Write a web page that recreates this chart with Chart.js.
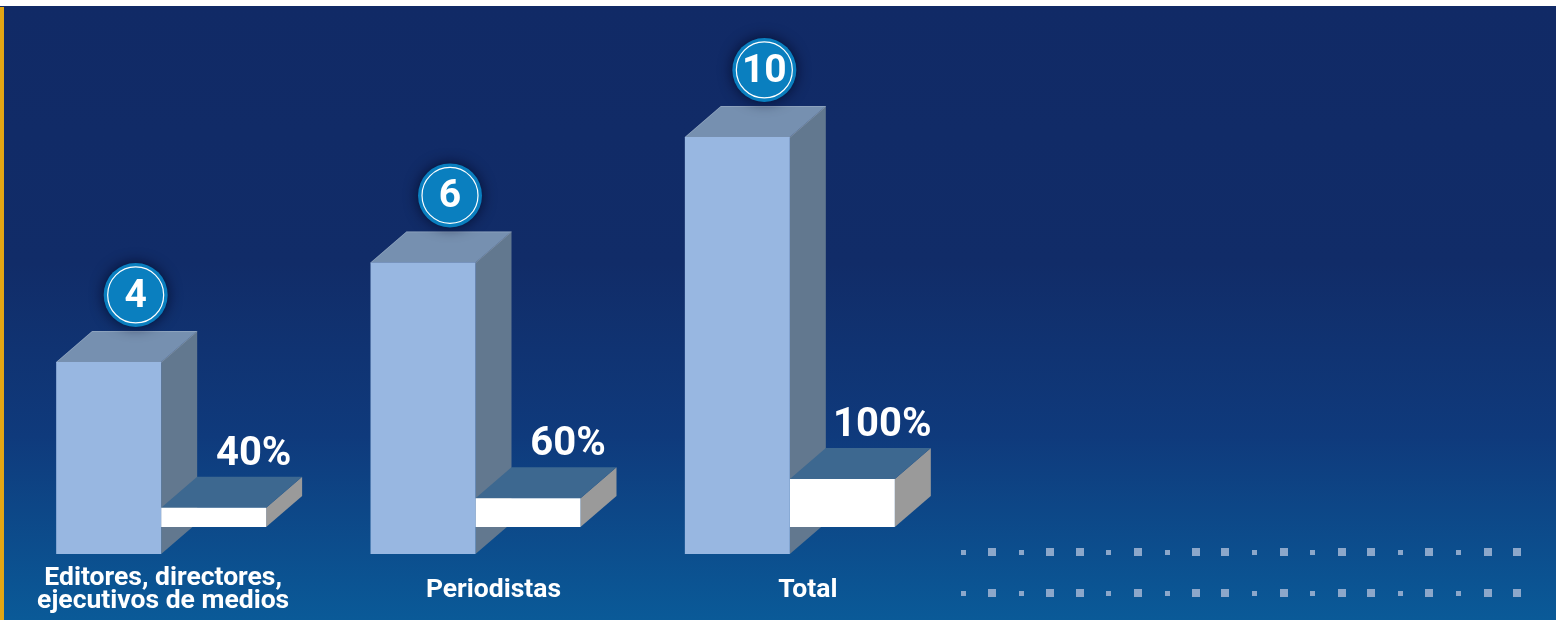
<!DOCTYPE html>
<html lang="es">
  <head>
    <meta charset="UTF-8" />
    <title>Editores, periodistas y total</title>
    <script src="https://cdn.jsdelivr.net/npm/chart.js@4.4.1/dist/chart.umd.min.js"></script>
    <style>
      body {
        margin: 0;
        background: #ffffff;
        font-family: Roboto, Arial, sans-serif;
      }
      .panel {
        position: absolute;
        left: 0;
        top: 6px;
        width: 1556px;
        height: 614px;
        background: linear-gradient(to bottom, #112a66 0%, #112c68 42%, #0f3a7c 70%, #0a5a98 100%);
      }
      .edge {
        position: absolute;
        left: 0;
        top: 7px;
        width: 4px;
        height: 613px;
        background: #e3a614;
      }
      #chart {
        position: absolute;
        left: 0;
        top: 0;
      }
    </style>
  </head>
  <body>
    <div class="panel"></div>
    <div class="edge"></div>
    <canvas id="chart" width="1556" height="620"></canvas>

    <script>
      // Datos
      const categories = [["Editores, directores,", "ejecutivos de medios"], "Periodistas", "Total"];
      const counts = [4, 6, 10];
      const percents = [40, 60, 100];

      // profundidad del efecto 3D
      const DX = 36;
      const DY = 31;

      const faceColors = [
        { front: "#98b7e1", top: "#7690b0", side: "#62788f" },
        { front: "#ffffff", top: "#3d6890", side: "#9a9a9a" },
      ];

      const poly = (ctx, pts, fill) => {
        ctx.beginPath();
        ctx.moveTo(pts[0][0], pts[0][1]);
        for (let i = 1; i < pts.length; i++) ctx.lineTo(pts[i][0], pts[i][1]);
        ctx.closePath();
        ctx.fillStyle = fill;
        ctx.fill();
      };

      // caras superior y lateral de cada barra
      const box3d = {
        id: "box3d",
        beforeDatasetsDraw(chart) {
          const ctx = chart.ctx;
          ctx.save();
          chart.data.datasets.forEach((ds, di) => {
            const c = faceColors[di];
            chart.getDatasetMeta(di).data.forEach((bar) => {
              const { x, y, base, width } = bar.getProps(["x", "y", "base", "width"], true);
              const l = x - width / 2;
              const r = x + width / 2;
              poly(ctx, [[r, y], [r + DX, y - DY], [r + DX, base - DY], [r, base]], c.side);
              poly(ctx, [[l, y], [l + DX, y - DY], [r + DX, y - DY], [r, y]], c.top);
              if (di === 0) {
                ctx.strokeStyle = "rgba(255,255,255,0.18)";
                ctx.lineWidth = 1;
                ctx.beginPath();
                ctx.moveTo(l, y + 0.5);
                ctx.lineTo(l + DX, y - DY + 0.5);
                ctx.lineTo(r + DX, y - DY + 0.5);
                ctx.lineTo(r, y + 0.5);
                ctx.closePath();
                ctx.stroke();
              }
            });
          });
          ctx.restore();
        },
        afterDatasetsDraw(chart) {
          const ctx = chart.ctx;
          ctx.save();
          // círculos con la cantidad
          chart.getDatasetMeta(0).data.forEach((bar, i) => {
            const cx = bar.x + 27;
            const cy = bar.y - DY - 36;
            ctx.save();
            ctx.shadowColor = "rgba(0,5,30,0.75)";
            ctx.shadowBlur = 14;
            ctx.beginPath();
            ctx.arc(cx, cy, 32, 0, Math.PI * 2);
            ctx.fillStyle = "#0a7fbf";
            ctx.fill();
            ctx.restore();
            ctx.beginPath();
            ctx.arc(cx, cy, 28, 0, Math.PI * 2);
            ctx.strokeStyle = "#ffffff";
            ctx.lineWidth = 1.2;
            ctx.stroke();
            ctx.fillStyle = "#ffffff";
            ctx.font = "bold 39px Roboto";
            ctx.textAlign = "center";
            ctx.textBaseline = "middle";
            ctx.fillText(String(counts[i]), cx, cy + 2);
          });
          // porcentajes
          chart.getDatasetMeta(1).data.forEach((bar, i) => {
            ctx.fillStyle = "#ffffff";
            ctx.font = "bold 40px Roboto";
            ctx.textAlign = "center";
            ctx.textBaseline = "alphabetic";
            ctx.fillText(percents[i] + "%", bar.x + 40, bar.y - DY - 12);
          });
          // etiquetas de categoría
          const xs = chart.scales.x;
          ctx.font = "bold 26.5px Roboto";
          ctx.textAlign = "center";
          ctx.textBaseline = "middle";
          ctx.fillStyle = "#ffffff";
          categories.forEach((cat, i) => {
            const lines = Array.isArray(cat) ? cat : [cat];
            const shift = i === 0 ? 2 : DX / 2;
            const cx = xs.getPixelForValue(i) + shift;
            const y0 = 590 - ((lines.length - 1) * 23.5) / 2;
            lines.forEach((t, k) => ctx.fillText(t, cx, y0 + k * 23.5));
          });
          ctx.restore();
        },
        afterDraw(chart) {
          // puntos decorativos
          const ctx = chart.ctx;
          const pattern = "sLsLLsLsLLsLsLLsLsLL";
          ctx.save();
          ctx.fillStyle = "#8ca7ca";
          [552, 593].forEach((cy) => {
            for (let i = 0; i < pattern.length; i++) {
              const cx = 963 + i * 29.15;
              const s = pattern[i] === "L" ? 8 : 5;
              ctx.fillRect(Math.round(cx - s / 2), Math.round(cy - s / 2), s, s);
            }
          });
          ctx.restore();
        },
      };

      new Chart(document.getElementById("chart"), {
        type: "bar",
        data: {
          labels: categories,
          datasets: [
            {
              label: "Cantidad",
              data: counts,
              yAxisID: "y",
              backgroundColor: faceColors[0].front,
              borderWidth: 0,
              categoryPercentage: 0.668,
              barPercentage: 1,
            },
            {
              label: "Porcentaje",
              data: percents,
              yAxisID: "y2",
              backgroundColor: faceColors[1].front,
              borderWidth: 0,
              categoryPercentage: 0.668,
              barPercentage: 1,
            },
          ],
        },
        options: {
          responsive: false,
          animation: false,
          devicePixelRatio: 1,
          layout: { padding: { left: 4, right: 609, top: 20, bottom: 66 } },
          plugins: { legend: { display: false }, tooltip: { enabled: false } },
          scales: {
            x: { display: false, grid: { display: false } },
            y: { type: "logarithmic", display: false, min: 1.83, max: 16.1, bounds: "data" },
            y2: { type: "linear", display: false, min: -56.25, max: 1056.25, bounds: "data" },
          },
        },
        plugins: [box3d],
      });
    </script>
  </body>
</html>
